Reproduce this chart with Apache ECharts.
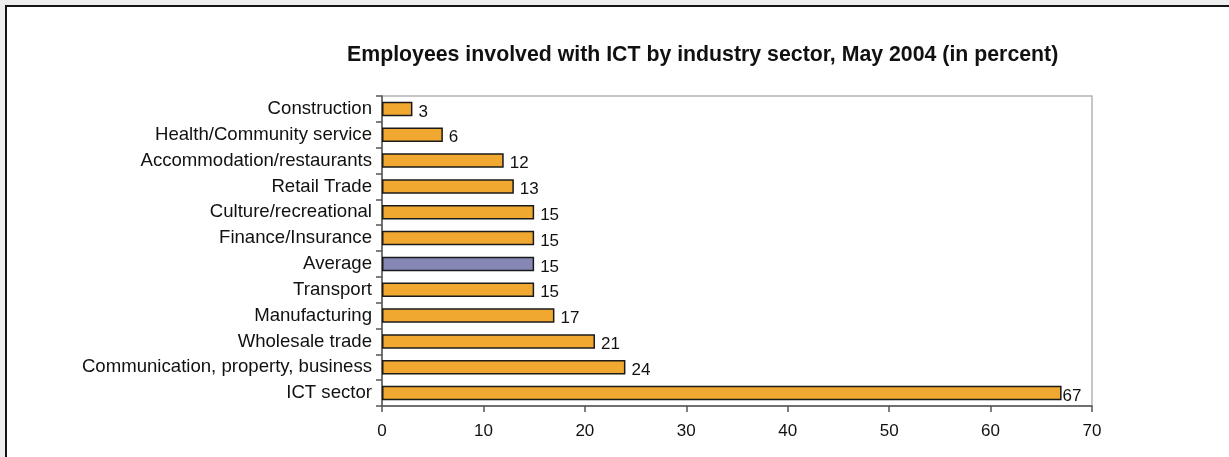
<!DOCTYPE html>
<html>
<head>
<meta charset="utf-8">
<script src="https://cdn.jsdelivr.net/npm/echarts@6/dist/echarts.min.js"></script>
<style>
  html, body { margin: 0; padding: 0; background: #eeeeee; overflow: hidden; }
  #frame { position: absolute; left: 5px; top: 5px; width: 1300px; height: 500px;
           background: #ffffff; border: 2px solid #151515; }
  #chart { position: absolute; left: 0; top: 0; width: 1229px; height: 457px; }
</style>
</head>
<body>
<div id="frame"></div>
<div id="chart"></div>
<script>
// Sectors, listed top to bottom
const sectors = [
  'Construction', 'Health/Community service', 'Accommodation/restaurants',
  'Retail Trade', 'Culture/recreational', 'Finance/Insurance', 'Average',
  'Transport', 'Manufacturing', 'Wholesale trade',
  'Communication, property, business', 'ICT sector'
];
// Share of employees involved with ICT (%)
const shares = [3, 6, 12, 13, 15, 15, 15, 15, 17, 21, 24, 67];
const highlighted = 'Average';
const xTicks = [0, 10, 20, 30, 40, 50, 60, 70];

const orange = '#f0a830';
const purple = '#8787b5';
const font = 'Liberation Sans, Arial, sans-serif';

const chart = echarts.init(document.getElementById('chart'), null, { renderer: 'canvas' });

const barData = shares.map((v, i) => ({
  value: v,
  itemStyle: { color: sectors[i] === highlighted ? purple : orange },
  label: { distance: v > 60 ? 1 : 6 }
}));

chart.setOption({
  backgroundColor: 'transparent',
  animation: false,
  textStyle: { fontFamily: font },
  title: {
    text: 'Employees involved with ICT by industry sector, May 2004 (in percent)',
    left: 342,
    top: 40,
    textStyle: { fontSize: 21.3, fontWeight: 'bold', color: '#111', fontFamily: font }
  },
  grid: { left: 382, right: 137, top: 96, bottom: 51, containLabel: false,
          show: true, borderColor: '#b4b4b4', borderWidth: 1.5, backgroundColor: 'transparent' },
  xAxis: {
    type: 'value',
    min: xTicks[0],
    max: xTicks[xTicks.length - 1],
    interval: 10,
    splitLine: { show: false },
    axisLine: { show: true, lineStyle: { color: '#555', width: 1.5 } },
    axisTick: { show: true, length: 6, lineStyle: { color: '#555', width: 1.5 } },
    axisLabel: { fontSize: 17, color: '#111', margin: 17 }
  },
  yAxis: {
    type: 'category',
    data: sectors,
    inverse: true,
    axisLine: { show: true, lineStyle: { color: '#555', width: 1.5 } },
    axisTick: { show: true, length: 6, alignWithLabel: false, lineStyle: { color: '#555', width: 1.5 } },
    axisLabel: { fontSize: 18.6, color: '#111', margin: 10 }
  },
  series: [{
    type: 'bar',
    data: barData,
    barCategoryGap: '44%',
    itemStyle: { borderColor: '#1a1a1a', borderWidth: 1.5 },
    label: { show: true, position: 'right', fontSize: 17, color: '#111', offset: [0, 3] }
  }]
});
</script>
</body>
</html>
